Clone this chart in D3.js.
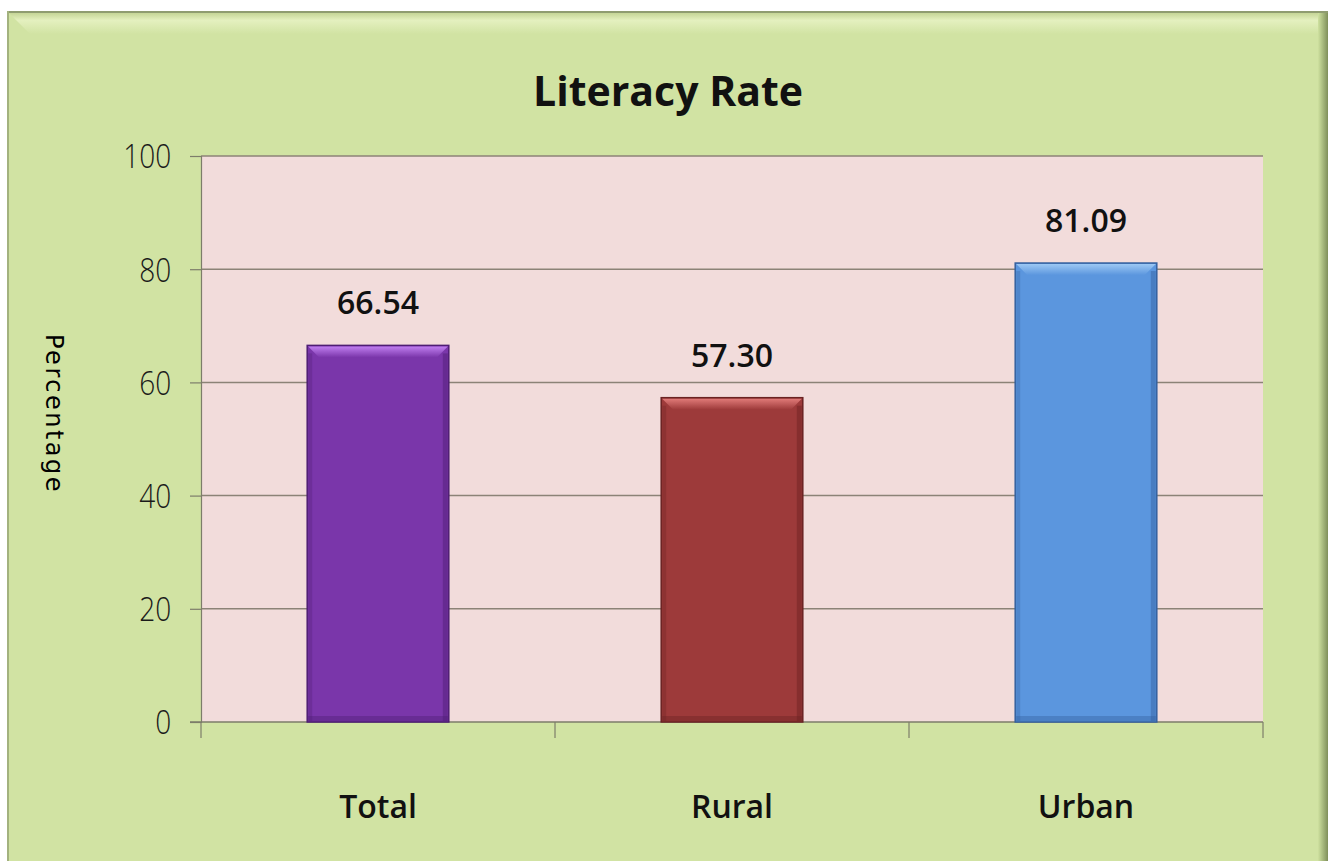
<!DOCTYPE html>
<html>
<head>
<meta charset="utf-8">
<script src="https://cdn.jsdelivr.net/npm/d3@7"></script>
<style>
body { margin:0; background:#ffffff; }
</style>
</head>
<body>
<script>
const categories = ["Total","Rural","Urban"]
const values = [66.54, 57.30, 81.09]
const valueLabels = ["66.54","57.30","81.09"]
const yTicks = [0,20,40,60,80,100]
const barColors = ["#7a36aa","#9d3a3a","#5b96de"]
const barLight = ["#c07ef0","#e07a78","#9cc8f4"]
const barDark = ["#4e1d73","#6a2222","#34609e"]

const svg = d3.select("body")
              .append("svg")
              .attr("width",1328)
              .attr("height",861)

const defs = svg.append("defs")

// frame shading
const shade = defs.append("linearGradient").attr("id","rightshade")
shade.append("stop").attr("offset","0%").attr("stop-color","#cfe2a0")
shade.append("stop").attr("offset","100%").attr("stop-color","#7f8f5a")

const topshade = defs.append("linearGradient").attr("id","topshade")
                     .attr("x1",0).attr("x2",0).attr("y1",0).attr("y2",1)
topshade.append("stop").attr("offset","0%").attr("stop-color","#c5d596")
topshade.append("stop").attr("offset","35%").attr("stop-color","#e4f0bf")
topshade.append("stop").attr("offset","100%").attr("stop-color","#d1e3a3")

svg.append("rect")
   .attr("x",7).attr("y",11)
   .attr("width",1321).attr("height",860)
   .attr("fill","#d1e3a3")
svg.append("path")
   .attr("d","M9,13L1318,13L1318,34L30,34Z")
   .attr("fill","url(#topshade)")
svg.append("rect")
   .attr("x",1318).attr("y",11)
   .attr("width",10).attr("height",860)
   .attr("fill","url(#rightshade)")
svg.append("rect")
   .attr("x",7).attr("y",11)
   .attr("width",1321).attr("height",2)
   .attr("fill","#8f9c70")
svg.append("rect")
   .attr("x",7).attr("y",11)
   .attr("width",2).attr("height",860)
   .attr("fill","#a3b27e")

const margin = {left:201, top:156, right:1263, bottom:722}

const yscale = d3.scaleLinear()
                 .domain([0,100])
                 .range([margin.bottom,margin.top])

const xscale = d3.scaleBand()
                 .domain(categories)
                 .range([margin.left,margin.right])
                 .paddingInner(0.6)
                 .paddingOuter(0.3)

// plot area
svg.append("rect")
   .attr("x",margin.left).attr("y",margin.top)
   .attr("width",margin.right-margin.left)
   .attr("height",margin.bottom-margin.top)
   .attr("fill","#f2dcdb")

// gridlines
svg.append("g")
   .selectAll("line")
   .data(yTicks.filter(d => d>0))
   .enter()
   .append("line")
   .attr("x1",margin.left).attr("x2",margin.right)
   .attr("y1",d => yscale(d)).attr("y2",d => yscale(d))
   .attr("stroke","#8c8377")
   .attr("stroke-width",1.5)

// y axis
const yaxis = svg.append("g")
                 .attr("transform","translate(" + margin.left + ",0)")
                 .call(d3.axisLeft(yscale).tickValues(yTicks).tickSize(11).tickPadding(24))
yaxis.select(".domain").attr("stroke","#7d7d6a").attr("stroke-width",1.2)
yaxis.selectAll(".tick line").attr("stroke","#7d7d6a").attr("stroke-width",1.2)
yaxis.selectAll(".tick text")
     .attr("x",-35)
     .attr("font-family","'Open Sans', sans-serif")
     .attr("font-size","33px")
     .attr("font-weight",300)
     .attr("fill","#1a1a1a")
     .attr("transform","scale(0.85,1)")
     .attr("dy","0.36em")

// x axis
const xaxisscale = d3.scaleLinear().domain([0,3]).range([margin.left,margin.right])
const xaxis = svg.append("g")
                 .attr("transform","translate(0," + margin.bottom + ")")
xaxis.append("line")
     .attr("x1",margin.left-11).attr("x2",margin.right)
     .attr("y1",0).attr("y2",0)
     .attr("stroke","#7d7d6a").attr("stroke-width",1.5)
xaxis.selectAll(".xtick")
     .data([0,1,2,3])
     .enter()
     .append("line")
     .attr("x1",d => xaxisscale(d)).attr("x2",d => xaxisscale(d))
     .attr("y1",0).attr("y2",16)
     .attr("stroke","#7d7d6a").attr("stroke-width",1.2)

// bars
categories.forEach((c,i) => {
    const g = defs.append("linearGradient").attr("id","top"+i)
                  .attr("x1",0).attr("x2",0).attr("y1",0).attr("y2",1)
    g.append("stop").attr("offset","0%").attr("stop-color",barLight[i])
    g.append("stop").attr("offset","100%").attr("stop-color",barColors[i])
})

const bars = svg.append("g")
                .selectAll("g")
                .data(categories)
                .enter()
                .append("g")

bars.append("rect")
    .attr("x",d => xscale(d))
    .attr("y",(d,i) => yscale(values[i]))
    .attr("width",xscale.bandwidth())
    .attr("height",(d,i) => margin.bottom - yscale(values[i]))
    .attr("fill",(d,i) => barColors[i])
    .attr("stroke",(d,i) => barDark[i])
    .attr("stroke-width",1.5)

// bevel on top
bars.append("path")
    .attr("d",(d,i) => {
        const x0 = xscale(d), x1 = x0 + xscale.bandwidth(), y0 = yscale(values[i])
        return "M" + (x0+1) + "," + (y0+1) + "L" + (x1-1) + "," + (y0+1) +
               "L" + (x1-12) + "," + (y0+12) + "L" + (x0+12) + "," + (y0+12) + "Z"
    })
    .attr("fill",(d,i) => "url(#top"+i+")")

// side shadows
bars.append("rect")
    .attr("x",d => xscale(d) + xscale.bandwidth() - 6)
    .attr("y",(d,i) => yscale(values[i]) + 8)
    .attr("width",5)
    .attr("height",(d,i) => margin.bottom - yscale(values[i]) - 9)
    .attr("fill",(d,i) => barDark[i])
    .attr("opacity",0.45)
bars.append("rect")
    .attr("x",d => xscale(d) + 1)
    .attr("y",(d,i) => yscale(values[i]) + 8)
    .attr("width",4)
    .attr("height",(d,i) => margin.bottom - yscale(values[i]) - 9)
    .attr("fill",(d,i) => barDark[i])
    .attr("opacity",0.3)
bars.append("rect")
    .attr("x",d => xscale(d) + 1)
    .attr("y",margin.bottom - 6)
    .attr("width",xscale.bandwidth() - 2)
    .attr("height",5)
    .attr("fill",(d,i) => barDark[i])
    .attr("opacity",0.4)

// value labels
bars.append("text")
    .attr("x",d => xscale(d) + xscale.bandwidth()/2)
    .attr("y",(d,i) => yscale(values[i]) - 31)
    .attr("text-anchor","middle")
    .attr("font-family","'Open Sans', sans-serif")
    .attr("font-weight",600)
    .attr("font-size","32px")
    .attr("fill","#111")
    .text((d,i) => valueLabels[i])

// category labels
svg.append("g")
   .selectAll("text")
   .data(categories)
   .enter()
   .append("text")
   .attr("x",d => xscale(d) + xscale.bandwidth()/2)
   .attr("y",818)
   .attr("text-anchor","middle")
   .attr("font-family","'Open Sans', sans-serif")
   .attr("font-weight",600)
   .attr("font-size","32px")
   .attr("fill","#111")
   .text(d => d)

// title
svg.append("text")
   .attr("x",668)
   .attr("y",106)
   .attr("text-anchor","middle")
   .attr("font-family","'Open Sans', sans-serif")
   .attr("font-weight",700)
   .attr("font-size","41px")
   .attr("fill","#111")
   .text("Literacy Rate")

// y axis title
svg.append("text")
   .attr("transform","translate(46,414) rotate(90)")
   .attr("text-anchor","middle")
   .attr("font-family","'DejaVu Sans', sans-serif")
   .attr("font-size","24px")
   .attr("letter-spacing","2.5px")
   .attr("fill","#000")
   .text("Percentage")
</script>
</body>
</html>
